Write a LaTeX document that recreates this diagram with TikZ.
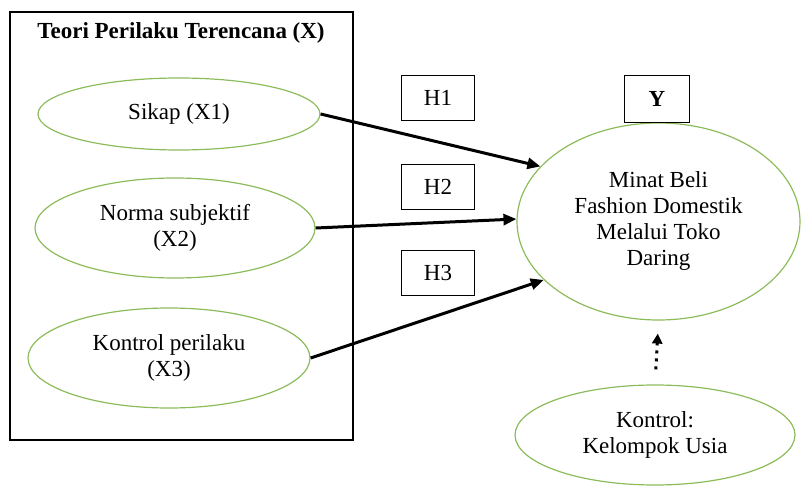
\documentclass[tikz,border=0pt]{standalone}
\usepackage{fontspec}
\setmainfont{Liberation Serif}
\usetikzlibrary{arrows.meta, positioning, shapes.geometric}
\definecolor{ovalgreen}{RGB}{140,188,90}

\begin{document}
\begin{tikzpicture}[
      x=1pt, y=-1pt,
      oval/.style={ellipse, draw=ovalgreen, line width=1.2pt, inner sep=0pt, align=center},
      hbox/.style={rectangle, draw, line width=1.5pt, minimum width=73pt, minimum height=45pt},
      arrow/.style={-{Triangle[length=13pt, width=11pt]}, line width=3pt},
      every node/.style={font=\fontsize{23}{26}\selectfont}
    ]
        \useasboundingbox (0,0) rectangle (803,486);
        \node[rectangle, draw, line width=2pt, minimum width=343pt, minimum height=428pt] (frame) at (181.5,226) {};
        \node[font=\fontsize{23}{26}\selectfont\bfseries] (title) at (181,33) {Teori Perilaku Terencana (X)};
        \node[oval, minimum width=282pt, minimum height=72pt] (sikap) at (179,114) {Sikap (X1)};
        \node[oval, minimum width=280pt, minimum height=100pt] (norma) at (175,228) {Norma subjektif\\(X2)};
        \node[oval, minimum width=282pt, minimum height=100pt] (kontrol) at (169,358) {Kontrol perilaku\\(X3)};
        \node[oval, minimum width=283pt, minimum height=197pt] (minat) at (658.5,221.5) {Minat Beli\\Fashion Domestik\\Melalui Toko\\Daring};
        \node[oval, minimum width=280pt, minimum height=100pt] (usia) at (655,435) {Kontrol:\\Kelompok Usia};
        \node[hbox] (h1) at (438,98) {H1};
        \node[hbox] (h2) at (438,187) {H2};
        \node[hbox] (h3) at (438,273) {H3};
        \node[hbox, minimum width=65pt, minimum height=47pt, font=\fontsize{23}{26}\selectfont\bfseries] (y) at (657,99) {Y};
        \draw[arrow] (sikap.east) -- (minat.155);
        \draw[arrow] (norma.east) -- (minat.179);
        \draw[arrow] (kontrol.east) -- (minat.207);
        \draw[-{Triangle[length=10pt, width=10pt]}, line width=3pt, dash pattern=on 3pt off 5pt,
              shorten <=15pt, shorten >=13pt] (usia.north) -- (minat.south);
    \end{tikzpicture}
\end{document}
